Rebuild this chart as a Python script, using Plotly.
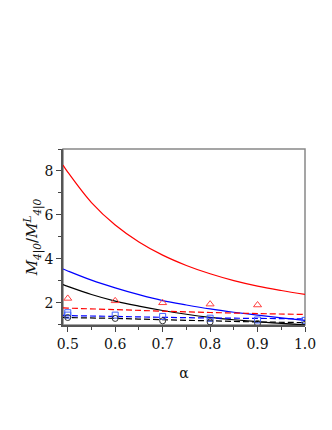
import plotly.graph_objects as go

alpha = [0.49, 0.5, 0.55, 0.6, 0.65, 0.7, 0.75, 0.8, 0.85, 0.9, 0.95, 1.0]
red_solid = [8.27, 7.95, 6.56, 5.54, 4.77, 4.17, 3.7, 3.32, 3.01, 2.76, 2.56, 2.38]
blue_solid = [3.54, 3.45, 3.03, 2.68, 2.37, 2.1, 1.9, 1.72, 1.57, 1.44, 1.31, 1.2]
black_solid = [2.83, 2.75, 2.38, 2.08, 1.85, 1.65, 1.48, 1.34, 1.23, 1.14, 1.06, 1.0]

alpha_d = [0.49, 0.5, 0.6, 0.7, 0.8, 0.9, 1.0]
red_dash = [1.77, 1.76, 1.69, 1.62, 1.56, 1.51, 1.47]
blue_dash = [1.43, 1.42, 1.38, 1.34, 1.31, 1.29, 1.27]
black_dash = [1.34, 1.33, 1.29, 1.23, 1.18, 1.13, 1.1]

alpha_tri = [0.5, 0.6, 0.7, 0.8, 0.9]
tri_vals = [2.2, 2.09, 2.0, 1.94, 1.9]
alpha_sq = [0.5, 0.5, 0.6, 0.7, 0.8, 0.9, 1.0]
sq_vals = [1.55, 1.44, 1.44, 1.38, 1.3, 1.22, 1.2]
alpha_circ = [0.5, 0.6, 0.7, 0.8, 0.9, 1.0]
circ_vals = [1.33, 1.29, 1.18, 1.13, 1.06, 1.02]

fig = go.Figure()
lw = 1.2
fig.add_trace(go.Scatter(x=alpha, y=red_solid, mode="lines", line=dict(color="#ff0000", width=lw, shape="spline")))
fig.add_trace(go.Scatter(x=alpha, y=blue_solid, mode="lines", line=dict(color="#0000ff", width=lw, shape="spline")))
fig.add_trace(go.Scatter(x=alpha, y=black_solid, mode="lines", line=dict(color="#000000", width=lw, shape="spline")))
dash = "6px,3px"
fig.add_trace(go.Scatter(x=alpha_d, y=red_dash, mode="lines", line=dict(color="#ff0000", width=lw, dash=dash, shape="spline")))
fig.add_trace(go.Scatter(x=alpha_d, y=blue_dash, mode="lines", line=dict(color="#0000ff", width=lw, dash=dash, shape="spline")))
fig.add_trace(go.Scatter(x=alpha_d, y=black_dash, mode="lines", line=dict(color="#000000", width=lw, dash=dash, shape="spline")))
fig.add_trace(go.Scatter(x=alpha_tri, y=tri_vals, mode="markers",
                         marker=dict(symbol="triangle-up-open", size=7, color="#ff4040", line=dict(width=1))))
fig.add_trace(go.Scatter(x=alpha_sq, y=sq_vals, mode="markers",
                         marker=dict(symbol="square-open", size=6, color="#4060ff", line=dict(width=1))))
fig.add_trace(go.Scatter(x=alpha_circ, y=circ_vals, mode="markers",
                         marker=dict(symbol="circle-open", size=6, color="#333333", line=dict(width=1))))

font = "DejaVu Serif"
fig.update_layout(
    width=332, height=430,
    margin=dict(l=55, r=35, t=141, b=113, autoexpand=False),
    paper_bgcolor="white", plot_bgcolor="white",
    showlegend=False,
    font=dict(family=font, size=14, color="#111"),
    shapes=[dict(type="rect", xref="paper", yref="paper", x0=0, y0=0, x1=1, y1=1,
                 line=dict(color="#888", width=1.5), layer="below")],
)
fig.update_xaxes(
    range=[0.49, 1.0], tickvals=[0.5, 0.6, 0.7, 0.8, 0.9, 1.0],
    ticktext=["0.5", "0.6", "0.7", "0.8", "0.9", "1.0"],
    ticks="outside", ticklen=5, tickwidth=1, tickcolor="#444",
    minor=dict(tickvals=[0.55, 0.65, 0.75, 0.85, 0.95], ticks="outside", ticklen=3, tickcolor="#444"),
    showline=True, linecolor="#555", linewidth=1.5, showgrid=False, zeroline=False,
    tickfont=dict(size=14, family=font), automargin=False,
    title=dict(text="α", font=dict(size=14, family=font), standoff=18),
)
fig.update_yaxes(
    range=[0.99, 9.0], tickvals=[2, 4, 6, 8],
    ticks="outside", ticklen=5, tickwidth=1, tickcolor="#444",
    minor=dict(tickvals=[1, 3, 5, 7, 9], ticks="outside", ticklen=3, tickcolor="#444"),
    showline=True, linecolor="#555", linewidth=1.5, showgrid=False, zeroline=False,
    tickfont=dict(size=14, family=font), automargin=False,
    title=dict(text="<i>M</i><sub><i>4|0</i></sub>/<i>M</i><sup><i>L</i></sup><sub><i>4|0</i></sub>",
               font=dict(size=15, family=font), standoff=2),
)
fig.write_html("out.html")
